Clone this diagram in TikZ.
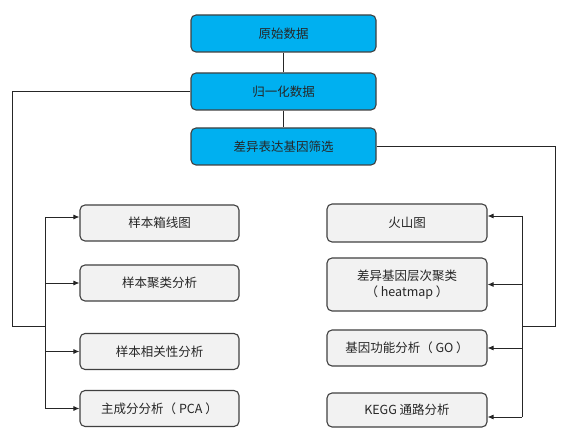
\documentclass[tikz,border=0pt]{standalone}
\usepackage{fontspec}
\setmainfont{Noto Sans CJK SC}
\usetikzlibrary{arrows.meta}
\definecolor{topfill}{HTML}{00B0F0}
\definecolor{grayfill}{HTML}{F2F2F2}
\definecolor{edge}{HTML}{404040}
\begin{document}
\begin{tikzpicture}[x=1pt,y=-1pt,
  box/.style={draw=edge,line width=1.1pt,rounded corners=5pt,inner sep=0pt,
    font=\fontsize{12.5}{16}\selectfont,text=black!85,align=center},
  topbox/.style={box,fill=topfill,minimum width=185pt,minimum height=37pt},
  graybox/.style={box,fill=grayfill,minimum width=159pt,minimum height=36pt},
  conn/.style={draw=black!85,line width=0.9pt},
  arr/.style={conn,-{Latex[length=6pt,width=5pt]}}]
\useasboundingbox (0,0) rectangle (562,435);
% top chain
\node[topbox] (b1) at (283.5,33.5) {原始数据};
\node[topbox] (b2) at (283.5,91.5) {归一化数据};
\node[topbox] (b3) at (283.5,146.5) {差异表达基因筛选};
% left column
\node[graybox] (l1) at (159.5,223) {样本箱线图};
\node[graybox] (l2) at (159.5,283) {样本聚类分析};
\node[graybox] (l3) at (159.5,351.5) {样本相关性分析};
\node[graybox] (l4) at (159.5,408.5) {主成分分析（ PCA ）};
% right column
\node[graybox,minimum width=160pt,minimum height=38pt] (r1) at (407,223) {火山图};
\node[graybox,minimum width=160pt,minimum height=53pt] (r2) at (407,284.5) {差异基因层次聚类\\（ heatmap ）};
\node[graybox,minimum width=160pt,minimum height=36pt] (r3) at (407,348) {基因功能分析（ GO ）};
\node[graybox,minimum width=160pt,minimum height=34pt] (r4) at (407,410) {KEGG 通路分析};
% chain connectors
\draw[conn] (b1) -- (b2);
\draw[conn] (b2) -- (b3);
% left trunk
\coordinate (lc1) at (12,91.5);
\coordinate (lc2) at (12,326);
\coordinate (lt) at (45,326);
\coordinate (ltop) at (45,217);
\coordinate (lbot) at (45,408.5);
\draw[conn] (b2.west) -- (lc1) -- (lc2) -- (lt);
\draw[conn] (ltop) -- (lbot);
\draw[arr] (ltop) -- (ltop -| l1.west);
\draw[arr] (lt |- l2.west) -- (l2.west);
\draw[arr] (lt |- l3.west) -- (l3.west);
\draw[arr] (lbot) -- (l4.west);
% right trunk
\coordinate (rc1) at (555,146.5);
\coordinate (rc2) at (555,326);
\coordinate (rt) at (522,326);
\coordinate (rtop) at (522,216);
\coordinate (rbot) at (522,417);
\draw[conn] (b3.east) -- (rc1) -- (rc2) -- (rt);
\draw[conn] (rtop) -- (rbot);
\draw[arr] (rtop) -- (rtop -| r1.east);
\draw[arr] (rt |- r2.east) -- (r2.east);
\draw[arr] (rt |- r3.east) -- (r3.east);
\draw[arr] (rbot) -- (rbot -| r4.east);
\end{tikzpicture}
\end{document}
